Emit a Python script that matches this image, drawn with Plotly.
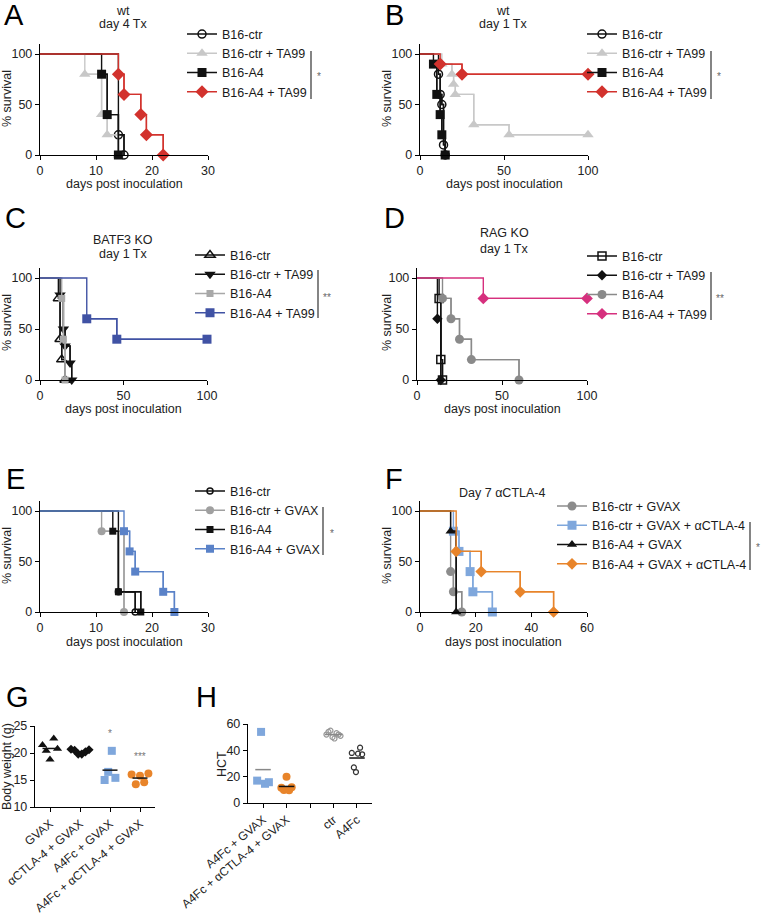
import plotly.graph_objects as go
import numpy as np

FONT = "Liberation Sans, Arial, Helvetica, sans-serif"
W, H = 762, 919

# ---------------- data ----------------
# A: wt, day 4 Tx  (event day, % survival after event)
A_ctr_days, A_ctr_surv = [14, 15], [20, 0]
A_ctrTA_days, A_ctrTA_surv = [8, 11, 12, 14], [80, 40, 20, 0]
A_A4_days, A_A4_surv = [11, 12, 14], [80, 40, 0]
A_A4TA_days, A_A4TA_surv = [14, 15, 18, 19, 22], [80, 60, 40, 20, 0]

# B: wt, day 1 Tx
B_ctr_days, B_ctr_surv = [11, 12, 13, 14, 15], [80, 60, 50, 10, 0]
B_ctrTA_days, B_ctrTA_surv = [13, 19, 20, 21, 32, 53, 100], [90, 80, 70, 60, 30, 20, 20]
B_A4_days, B_A4_surv = [8, 10, 12, 13, 15], [90, 60, 40, 20, 0]
B_A4TA_days, B_A4TA_surv = [12, 25, 100], [90, 80, 80]

# C: BATF3 KO, day 1 Tx
C_ctr_days, C_ctr_surv = [11, 12, 13, 15], [80, 40, 20, 0]
C_ctrTA_days, C_ctrTA_surv = [12, 14, 15, 18, 19], [83.3, 50, 33.3, 16.7, 0]
C_A4_days, C_A4_surv = [13, 14, 15], [80, 40, 0]
C_A4TA_days, C_A4TA_surv = [28, 46, 100], [60, 40, 40]

# D: RAG KO, day 1 Tx
D_ctr_days, D_ctr_surv = [13, 14, 15], [80, 20, 0]
D_ctrTA_days, D_ctrTA_surv = [12, 14], [60, 0]
D_A4_days, D_A4_surv = [15, 20, 25, 32, 60], [80, 60, 40, 20, 0]
D_A4TA_days, D_A4TA_surv = [39, 100], [80, 80]

# E: GVAX
E_ctr_days, E_ctr_surv = [14, 17], [20, 0]
E_ctrG_days, E_ctrG_surv = [11, 15], [80, 0]
E_A4_days, E_A4_surv = [13, 14, 18], [80, 20, 0]
E_A4G_days, E_A4G_surv = [15, 16, 17, 22, 24], [80, 60, 40, 20, 0]

# F: Day 7 aCTLA-4
F_ctrG_days, F_ctrG_surv = [11, 12, 15], [40, 20, 0]
F_ctrGC_days, F_ctrGC_surv = [12, 14, 18, 19, 26], [80, 60, 40, 20, 0]
F_A4G_days, F_A4G_surv = [11, 13], [80, 0]
F_A4GC_days, F_A4GC_surv = [13, 22, 36, 48], [60, 40, 20, 0]

# G: body weight (g)
G_labels = ["GVAX", "αCTLA-4 + GVAX", "A4Fc + GVAX", "A4Fc + αCTLA-4 + GVAX"]
G_gvax = [21.5, 20.4, 18.8, 22.7, 20.8]
G_actla = [20.7, 20.5, 19.8, 19.8, 20.2, 20.6]
G_a4fc = [15.0, 16.5, 20.4, 15.4]
G_combo = [16.0, 14.2, 15.8, 14.6, 16.2]

# H: HCT
H_labels = ["A4Fc + GVAX", "A4Fc + αCTLA-4 + GVAX", "", "ctr", "A4Fc"]
H_a4fc_gvax = [17.0, 54.0, 14.6, 15.8]
H_combo = [11.5, 9.8, 20.0, 9.6, 12.0]
H_ctr = [52, 54, 55, 50, 49, 53, 52, 51]
H_a4fc = [38, 27, 23.5, 37.5, 42, 37]

# ---------------- helpers ----------------
def PX(p):
    return p / W

def PY(p):
    return 1 - p / H

fig = go.Figure()

def ax_ref(i):
    return ("x", "y") if i == 1 else (f"x{i}", f"y{i}")

def add_km(i, legend, name, days, surv, color, symbol, size, lw=1.4):
    xr, yr = ax_ref(i)
    fig.add_trace(go.Scatter(
        x=[0] + list(days), y=[100] + list(surv), mode="lines",
        line=dict(color=color, width=lw, shape="hv"), xaxis=xr, yaxis=yr,
        showlegend=False, hoverinfo="skip", cliponaxis=False))
    is_open = symbol.endswith("-open")
    fig.add_trace(go.Scatter(
        x=days, y=surv, mode="lines+markers", name=name, legend=legend,
        line=dict(color=color, width=lw, shape="hv"),
        marker=dict(symbol=symbol, size=size, color=color,
                    line=dict(color=color, width=1.5 if is_open else 0)),
        xaxis=xr, yaxis=yr, cliponaxis=False))

BLACK = "#111111"
LGRAY = "#c8c8c8"
RED = "#d2322d"
BLUE_C = "#4052a4"
MAG = "#d6307e"
BLUE_E = "#5a82c8"
LBLUE = "#7fa7dc"
ORANGE = "#e8842a"

# panel geometry: (axis idx, x0px, x1px, y0px (0%), y100px, xmax, dtick)
panels = {
    "A": (1, 40, 208, 155, 54, 30, 10),
    "B": (2, 420, 588, 155, 54, 100, 50),
    "C": (3, 40, 207, 380, 278, 100, 50),
    "D": (4, 417, 587, 380, 278, 100, 50),
    "E": (5, 40, 208, 612, 511, 30, 10),
    "F": (6, 420, 587, 612, 511, 60, 20),
}

# A
add_km(1, "legend", "B16-ctr", A_ctr_days, A_ctr_surv, BLACK, "circle-open", 8)
add_km(1, "legend", "B16-ctr + TA99", A_ctrTA_days, A_ctrTA_surv, LGRAY, "triangle-up", 10)
add_km(1, "legend", "B16-A4", A_A4_days, A_A4_surv, BLACK, "square", 9)
add_km(1, "legend", "B16-A4 + TA99", A_A4TA_days, A_A4TA_surv, RED, "diamond", 10)
# B
add_km(2, "legend2", "B16-ctr", B_ctr_days, B_ctr_surv, BLACK, "circle-open", 8)
add_km(2, "legend2", "B16-ctr + TA99", B_ctrTA_days, B_ctrTA_surv, LGRAY, "triangle-up", 10)
add_km(2, "legend2", "B16-A4", B_A4_days, B_A4_surv, BLACK, "square", 9)
add_km(2, "legend2", "B16-A4 + TA99", B_A4TA_days, B_A4TA_surv, RED, "diamond", 10)
# C
add_km(3, "legend3", "B16-ctr", C_ctr_days, C_ctr_surv, BLACK, "triangle-up-open", 9)
add_km(3, "legend3", "B16-ctr + TA99", C_ctrTA_days, C_ctrTA_surv, BLACK, "triangle-down", 10)
add_km(3, "legend3", "B16-A4", C_A4_days, C_A4_surv, "#a8a8a8", "square", 7)
add_km(3, "legend3", "B16-A4 + TA99", C_A4TA_days, C_A4TA_surv, BLUE_C, "square", 9)
# D
add_km(4, "legend4", "B16-ctr", D_ctr_days, D_ctr_surv, BLACK, "square-open", 8)
add_km(4, "legend4", "B16-ctr + TA99", D_ctrTA_days, D_ctrTA_surv, BLACK, "diamond", 8)
add_km(4, "legend4", "B16-A4", D_A4_days, D_A4_surv, "#8a8a8a", "circle", 9)
add_km(4, "legend4", "B16-A4 + TA99", D_A4TA_days, D_A4TA_surv, MAG, "diamond", 9)
# E
add_km(5, "legend5", "B16-ctr", E_ctr_days, E_ctr_surv, BLACK, "circle-open", 6)
add_km(5, "legend5", "B16-ctr + GVAX", E_ctrG_days, E_ctrG_surv, "#a0a0a0", "circle", 8)
add_km(5, "legend5", "B16-A4", E_A4_days, E_A4_surv, BLACK, "square", 7)
add_km(5, "legend5", "B16-A4 + GVAX", E_A4G_days, E_A4G_surv, BLUE_E, "square", 8)
# F
add_km(6, "legend6", "B16-ctr + GVAX", F_ctrG_days, F_ctrG_surv, "#8c8c8c", "circle", 9)
add_km(6, "legend6", "B16-ctr + GVAX + αCTLA-4", F_ctrGC_days, F_ctrGC_surv, LBLUE, "square", 9)
add_km(6, "legend6", "B16-A4 + GVAX", F_A4G_days, F_A4G_surv, BLACK, "triangle-up", 9)
add_km(6, "legend6", "B16-A4 + GVAX + αCTLA-4", F_A4GC_days, F_A4GC_surv, ORANGE, "diamond", 9)

# ---------- dot plots ----------
def add_dots(i, k, vals, color, symbol, size, spread, half, mean_color, open_=False):
    xr, yr = ax_ref(i)
    n = len(vals)
    offs = np.linspace(-spread, spread, n) if n > 1 else np.zeros(1)
    fig.add_trace(go.Scatter(
        x=k + offs, y=vals, mode="markers", showlegend=False, xaxis=xr, yaxis=yr,
        marker=dict(symbol=symbol, size=size, color=color,
                    line=dict(color=color, width=1.2 if open_ else 0)),
        cliponaxis=False))
    m = float(np.mean(vals))
    fig.add_trace(go.Scatter(
        x=[k - half, k + half], y=[m, m], mode="lines", showlegend=False,
        line=dict(color=mean_color, width=1.5), xaxis=xr, yaxis=yr, hoverinfo="skip"))

add_dots(7, 0, G_gvax, BLACK, "triangle-up", 8, 0.25, 0.25, BLACK)
add_dots(7, 1, G_actla, BLACK, "diamond", 7, 0.3, 0.25, BLACK)
add_dots(7, 2, G_a4fc, LBLUE, "square", 8, 0.18, 0.25, BLACK)
add_dots(7, 3, G_combo, ORANGE, "circle", 8, 0.28, 0.25, BLACK)

add_dots(8, 0, H_a4fc_gvax, LBLUE, "square", 8, 0.25, 0.33, "#888888")
add_dots(8, 1, H_combo, ORANGE, "circle", 8, 0.22, 0.33, BLACK)
add_dots(8, 3, H_ctr, "#999999", "circle-open", 5, 0.3, 0.37, "#888888", open_=True)
add_dots(8, 4, H_a4fc, "#333333", "circle-open", 5, 0.22, 0.33, BLACK, open_=True)

# ---------------- layout ----------------
axis_common = dict(showline=True, linecolor="black", linewidth=1.4, ticks="outside",
                   ticklen=4, tickwidth=1.4, tickcolor="black", showgrid=False,
                   zeroline=False, automargin=False,
                   tickfont=dict(size=12.5, color="#222", family=FONT))
layout = dict(width=W, height=H,
              margin=dict(l=0, r=0, t=0, b=0, pad=0, autoexpand=False),
              plot_bgcolor="white", paper_bgcolor="white",
              font=dict(family=FONT, size=12.5, color="#222"))

for key, (i, x0, x1, y0, y100, xmax, dt) in panels.items():
    top = y0 - 110 * (y0 - y100) / 100
    xn = "xaxis" if i == 1 else f"xaxis{i}"
    yn = "yaxis" if i == 1 else f"yaxis{i}"
    xr, yr = ax_ref(i)
    layout[xn] = dict(axis_common, domain=[PX(x0), PX(x1)], range=[0, xmax], dtick=dt,
                      tick0=0, anchor=yr)
    layout[yn] = dict(axis_common, domain=[PY(y0), PY(top)], range=[0, 110],
                      tickvals=[0, 50, 100], anchor=xr)

# G
layout["xaxis7"] = dict(axis_common, domain=[PX(35), PX(155)], range=[-0.5, 3.5],
                        tickvals=[0, 1, 2, 3], ticktext=G_labels, tickangle=-40,
                        anchor="y7", tickfont=dict(size=12, color="#222", family=FONT))
layout["yaxis7"] = dict(axis_common, domain=[PY(807), PY(726)], range=[10, 25],
                        tickvals=[10, 15, 20, 25], anchor="x7")
# H
layout["xaxis8"] = dict(axis_common, domain=[PX(248), PX(372)], range=[-0.64, 4.64],
                        tickvals=[0, 1, 2, 3, 4], ticktext=H_labels, tickangle=-40,
                        anchor="y8", tickfont=dict(size=12, color="#222", family=FONT))
layout["yaxis8"] = dict(axis_common, domain=[PY(803), PY(724)], range=[0, 60],
                        tickvals=[0, 20, 40, 60], anchor="x8")

def legend_cfg(text_x, row1_y):
    return dict(x=PX(text_x - 40), y=PY(row1_y - 14.6), xanchor="left", yanchor="top",
                bgcolor="rgba(0,0,0,0)", borderwidth=0,
                font=dict(size=12.5, color="#1a1a1a", family=FONT),
                tracegroupgap=0, itemclick=False, itemdoubleclick=False)

layout["legend"] = legend_cfg(222, 34)
layout["legend2"] = legend_cfg(622, 34)
layout["legend3"] = legend_cfg(230, 255)
layout["legend4"] = legend_cfg(622, 256)
layout["legend5"] = legend_cfg(230, 491)
layout["legend6"] = legend_cfg(592, 506)

fig.update_layout(**layout)

ann = []
def text(x, y, s, size=12.5, color="#222", angle=0, xanchor="center"):
    ann.append(dict(x=PX(x), y=PY(y), xref="paper", yref="paper", text=s, showarrow=False,
                    font=dict(size=size, color=color, family=FONT), textangle=angle,
                    xanchor=xanchor, yanchor="middle"))

# panel letters
for letter, (lx, ly) in {"A": (2, 15), "B": (383, 15), "C": (3, 218), "D": (382, 218),
                         "E": (4, 479), "F": (383, 479), "G": (4, 697), "H": (194, 697)}.items():
    text(lx, ly, letter, size=29, color="black", xanchor="left")

# titles
text(123, 11, "wt"); text(123, 24, "day 4 Tx")
text(503, 11, "wt"); text(503, 24, "day 1 Tx")
text(123, 240, "BATF3 KO"); text(123, 254, "day 1 Tx")
text(504, 233, "RAG KO"); text(504, 249, "day 1 Tx")
text(502, 493, "Day 7 αCTLA-4")

# axis titles
for (cx, cy) in [(124, 184), (504, 184), (123, 409), (502, 409), (124, 642), (503, 642)]:
    text(cx, cy, "days post inoculation")
for (cx, cy) in [(7, 99), (387, 99), (7, 323), (387, 323), (7, 556), (387, 556)]:
    text(cx, cy, "% survival", angle=-90)
text(7, 767, "Body weight (g)", angle=-90)
text(222, 764, "HCT", angle=-90)

# legend brackets + significance
shapes = []
for (bx, by0, by1, star, sx, sy) in [(311, 51, 99, "*", 319, 77), (711, 51, 99, "*", 719, 77),
                                     (318, 270, 318, "**", 327, 297), (711, 272, 320, "**", 720, 298),
                                     (323, 507, 555, "*", 332, 533), (750, 522, 570, "*", 758, 547)]:
    shapes.append(dict(type="line", xref="paper", yref="paper", x0=PX(bx), x1=PX(bx),
                       y0=PY(by0), y1=PY(by1), line=dict(color="#333", width=1.2)))
    text(sx, sy, star, size=10, color="#666")

ann.append(dict(x=2, y=23.6, xref="x7", yref="y7", text="*", showarrow=False,
                font=dict(size=10, color="#777", family=FONT)))
ann.append(dict(x=3, y=19.4, xref="x7", yref="y7", text="***", showarrow=False,
                font=dict(size=10, color="#777", family=FONT)))

fig.update_layout(annotations=ann, shapes=shapes)
fig.write_html("out.html", config={"displayModeBar": False},
               post_script="document.body.style.margin='0px';document.body.style.padding='0px';")
